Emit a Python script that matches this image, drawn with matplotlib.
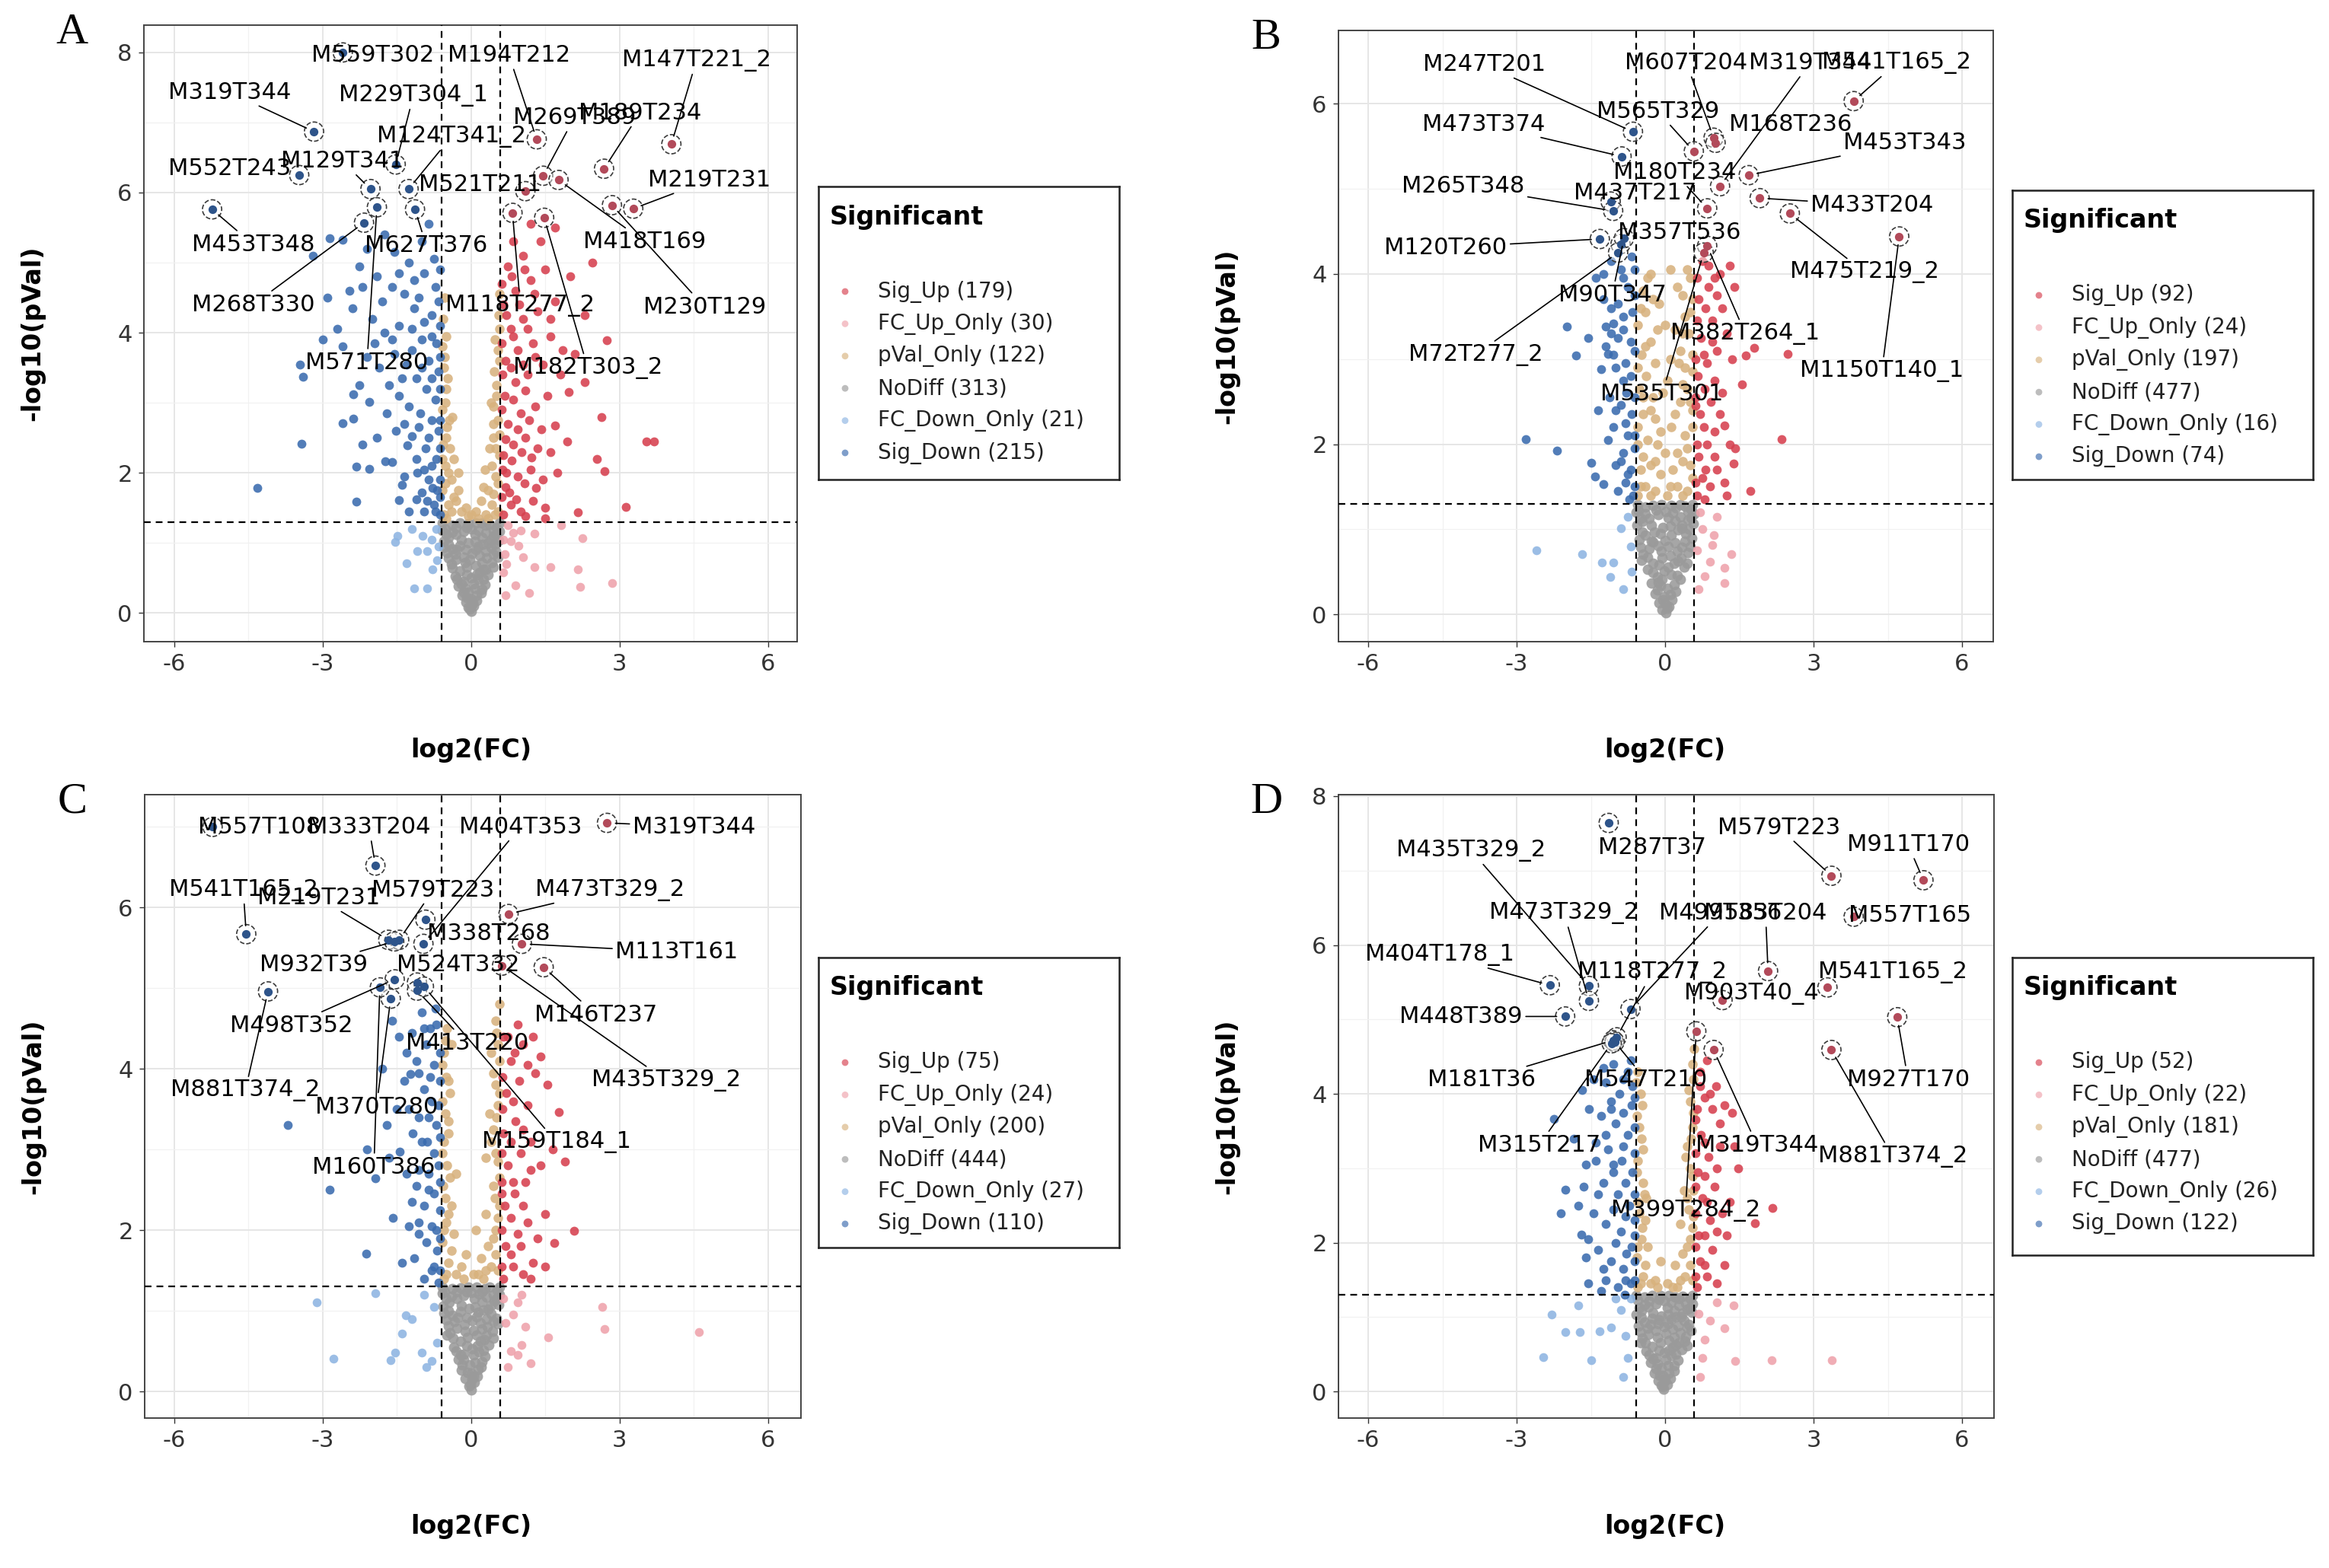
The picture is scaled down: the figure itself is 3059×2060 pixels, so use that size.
import matplotlib

matplotlib.use("Agg")
import matplotlib.pyplot as plt

plt.rcParams["font.family"] = ["DejaVu Sans"]
plt.rcParams["axes.unicode_minus"] = False

W, H = 3059, 2060  # output size in pixels (dpi 100)

CATEGORIES = ["Sig_Up", "FC_Up_Only", "pVal_Only", "NoDiff", "FC_Down_Only", "Sig_Down"]
COLORS = {
    "Sig_Up": "#D6404F",
    "FC_Up_Only": "#EFA2AB",
    "pVal_Only": "#D8B27E",
    "NoDiff": "#9A9A9A",
    "FC_Down_Only": "#8DB4E2",
    "Sig_Down": "#3A6BAE",
}

# ---------------- panel A ----------------
A_COUNTS = [179, 30, 122, 313, 21, 215]
A_SIG_UP = [(3.54, 2.45), (3.70, 2.45), (2.70, 2.02), (3.13, 1.51), (2.16, 1.44), (2.64, 2.79), (2.75, 3.89),
            (1.98, 3.15), (1.70, 2.68), (0.65, 1.40), (0.80, 1.55), (1.00, 1.45), (1.25, 1.60), (1.50, 1.50),
            (0.70, 1.80), (0.95, 1.95), (1.20, 2.05), (1.45, 1.90), (1.75, 2.00), (0.66, 2.25), (0.85, 2.40),
            (1.10, 2.50), (1.35, 2.35), (0.75, 2.70), (1.00, 2.85), (1.30, 2.95), (1.55, 3.10), (0.68, 3.10),
            (0.90, 3.30), (1.15, 3.40), (1.45, 3.55), (1.80, 3.40), (0.70, 3.60), (0.95, 3.75), (1.25, 3.85),
            (1.60, 3.95), (2.10, 3.70), (0.80, 4.05), (1.05, 4.20), (1.35, 4.30), (1.70, 4.45), (2.30, 4.25),
            (0.66, 4.40), (0.90, 4.60), (1.20, 4.75), (1.50, 4.90), (2.00, 4.80), (0.75, 4.95), (1.05, 5.10),
            (1.40, 5.30), (0.85, 5.30), (1.70, 5.50), (2.45, 5.00), (1.20, 5.55), (0.72, 2.00), (1.60, 2.30),
            (0.62, 1.65), (0.78, 1.72), (0.92, 1.62), (1.08, 1.85), (1.32, 1.78), (0.64, 2.05), (0.82, 2.18),
            (1.02, 2.30), (1.22, 2.22), (0.70, 2.48), (0.95, 2.62), (1.18, 2.75), (1.42, 2.62), (0.63, 2.90),
            (0.86, 3.05), (1.10, 3.18), (0.64, 3.40), (0.80, 3.50), (1.05, 3.55), (1.30, 3.65), (0.62, 3.85),
            (0.85, 3.95), (1.15, 4.05), (0.72, 4.25), (0.98, 4.40), (1.28, 4.55), (0.62, 4.70), (0.82, 4.80),
            (1.08, 4.90), (1.60, 4.20), (1.85, 3.75), (1.95, 2.45), (2.30, 3.30), (2.55, 2.20), (1.50, 1.35),
            (1.10, 1.38)]
A_FC_UP = [(2.25, 1.07), (2.16, 0.62), (2.21, 0.37), (2.86, 0.43), (1.60, 0.66), (1.28, 0.66), (1.17, 0.28),
           (0.90, 0.39), (1.82, 1.25), (1.28, 1.13), (0.96, 0.96), (0.69, 0.84), (0.85, 1.14), (0.65, 0.58),
           (0.75, 1.25), (1.05, 0.80), (0.70, 0.25), (0.66, 1.05), (0.80, 1.02), (1.00, 1.18), (0.72, 0.70)]
A_PVAL = [(-0.55, 1.40), (-0.45, 1.55), (-0.58, 1.75), (-0.40, 1.90), (-0.52, 2.10), (-0.56, 2.40), (-0.48, 2.65),
          (-0.57, 2.90), (-0.50, 3.20), (-0.55, 3.50), (-0.58, 3.80), (-0.35, 2.20), (-0.30, 1.60), (-0.20, 1.45),
          (-0.25, 1.75), (-0.42, 2.35), (-0.38, 2.80), (-0.56, 4.20), (-0.53, 4.50), (0.30, 1.40), (0.42, 1.55),
          (0.55, 1.45), (0.35, 1.75), (0.50, 1.95), (0.57, 2.25), (0.45, 2.50), (0.55, 2.75), (0.40, 3.00),
          (0.52, 3.25), (0.57, 3.60), (0.48, 3.90), (0.56, 4.25), (0.20, 1.60), (0.28, 2.05), (0.38, 2.35),
          (0.46, 2.95), (0.58, 4.55), (0.15, 1.35), (0.00, 1.40), (-0.10, 1.50),
          (-0.50, 1.35), (-0.40, 1.45), (-0.35, 1.65), (-0.52, 1.85), (-0.45, 2.00), (-0.58, 2.20), (-0.50, 2.50),
          (-0.44, 2.75), (-0.52, 3.00), (-0.47, 3.35), (-0.53, 3.65), (-0.50, 3.95), (0.35, 1.35), (0.48, 1.40),
          (0.45, 1.70), (0.55, 1.85), (0.42, 2.10), (0.50, 2.35), (0.58, 2.55), (0.45, 2.70), (0.52, 3.10),
          (0.47, 3.45), (0.54, 3.75), (0.58, 4.05), (0.10, 1.45), (-0.05, 1.38), (0.25, 1.80), (-0.25, 2.00)]
A_NODIFF = [(0.00, 0.03), (-0.05, 0.08), (0.06, 0.10), (-0.10, 0.15), (0.12, 0.18), (0.00, 0.20), (-0.18, 0.25),
            (0.20, 0.28), (-0.05, 0.30), (0.08, 0.35), (-0.25, 0.38), (0.28, 0.40), (-0.15, 0.45), (0.15, 0.48),
            (0.00, 0.50), (-0.32, 0.52), (0.35, 0.55), (-0.22, 0.60), (0.25, 0.62), (-0.08, 0.65), (0.10, 0.68),
            (-0.40, 0.70), (0.42, 0.72), (-0.30, 0.76), (0.32, 0.78), (-0.15, 0.80), (0.18, 0.82), (0.02, 0.85),
            (-0.48, 0.86), (0.50, 0.88), (-0.38, 0.92), (0.40, 0.94), (-0.22, 0.96), (0.24, 0.98), (-0.05, 1.00),
            (0.08, 1.02), (-0.55, 1.02), (0.56, 1.04), (-0.45, 1.08), (0.46, 1.10), (-0.30, 1.12), (0.30, 1.14),
            (-0.15, 1.16), (0.15, 1.18), (0.00, 1.20), (-0.52, 1.20), (0.52, 1.22), (-0.38, 1.25), (0.38, 1.26),
            (-0.22, 1.28), (0.22, 1.28), (-0.05, 1.27), (0.03, 0.12), (-0.12, 0.35), (0.18, 0.58), (-0.28, 0.90),
            (0.34, 1.00), (-0.58, 1.18), (0.58, 1.16), (0.48, 0.98),
            (-0.02, 0.06), (0.04, 0.16), (-0.08, 0.22), (0.12, 0.25), (-0.15, 0.30), (0.22, 0.34), (-0.20, 0.42),
            (0.05, 0.42), (0.25, 0.48), (-0.28, 0.48), (-0.08, 0.55), (0.12, 0.55), (0.30, 0.62), (-0.38, 0.64),
            (0.45, 0.66), (-0.12, 0.72), (0.22, 0.72), (-0.45, 0.78), (0.55, 0.80), (-0.02, 0.76), (0.10, 0.90),
            (-0.10, 0.90), (0.30, 0.88), (-0.32, 0.84), (-0.55, 0.94), (0.45, 0.84), (0.15, 0.95), (-0.45, 0.98),
            (0.40, 1.05), (-0.20, 1.05), (0.22, 1.08), (-0.38, 1.15), (0.08, 1.12), (-0.08, 1.22), (0.45, 1.18),
            (-0.58, 1.28), (0.58, 1.28), (0.30, 1.25), (-0.30, 1.22), (0.10, 1.28), (-0.50, 1.12), (0.52, 1.12)]
A_FC_DOWN = [(-1.53, 1.01), (-1.15, 0.35), (-0.88, 0.35), (-1.08, 0.88), (-1.30, 0.71), (-0.88, 0.88),
             (-0.98, 1.10), (-0.77, 0.62), (-1.48, 1.10), (-0.70, 1.20), (-0.65, 0.95), (-1.20, 1.20),
             (-0.68, 0.75), (-0.80, 1.05)]
A_SIG_DOWN = [(-4.32, 1.78), (-3.42, 2.42), (-3.40, 3.37), (-3.45, 3.55), (-2.32, 1.59), (-2.32, 2.09),
              (-2.05, 2.06), (-2.59, 2.71), (-2.37, 2.77), (-2.37, 3.12), (-2.05, 3.01), (-1.73, 2.17),
              (-1.40, 1.83), (-1.46, 1.61), (-1.08, 2.00), (-1.29, 2.39), (-1.51, 2.60), (-1.19, 2.52),
              (-0.95, 1.45), (-0.75, 1.55), (-0.68, 1.75), (-0.85, 1.90), (-1.10, 1.62), (-0.70, 2.20),
              (-0.92, 2.35), (-0.66, 2.60), (-0.80, 2.75), (-1.02, 2.85), (-1.25, 2.95), (-1.45, 3.10),
              (-1.65, 3.25), (-0.72, 3.05), (-0.90, 3.20), (-1.10, 3.35), (-0.65, 3.45), (-0.85, 3.60),
              (-1.30, 3.55), (-1.55, 3.70), (-1.85, 3.50), (-2.10, 3.65), (-2.60, 3.80), (-0.70, 3.85),
              (-1.00, 3.90), (-1.20, 4.05), (-1.45, 4.10), (-1.75, 4.00), (-2.00, 4.20), (-2.40, 4.35),
              (-2.90, 4.50), (-0.80, 4.25), (-0.65, 4.45), (-1.05, 4.50), (-1.35, 4.55), (-1.60, 4.65),
              (-1.90, 4.80), (-2.25, 4.95), (-2.85, 5.35), (-2.59, 5.33), (-3.20, 5.10), (-0.95, 4.85),
              (-1.25, 5.00), (-1.55, 5.15), (-0.75, 5.05), (-1.00, 5.30), (-1.75, 5.40), (-2.10, 5.20),
              (-0.85, 5.55), (-2.45, 4.60), (-2.70, 4.05), (-3.00, 3.90), (-1.90, 2.50), (-2.20, 2.40),
              (-1.60, 2.15), (-1.35, 1.95),
              (-0.62, 1.40), (-0.72, 1.45), (-0.88, 1.60), (-0.62, 1.65), (-0.78, 1.78), (-1.00, 1.72),
              (-0.62, 1.90), (-0.95, 2.05), (-0.80, 2.10), (-0.62, 2.35), (-1.10, 2.20), (-0.85, 2.50),
              (-0.62, 2.75), (-1.05, 2.65), (-1.35, 2.70), (-0.62, 3.20), (-0.80, 3.35), (-1.00, 3.50),
              (-1.20, 3.75), (-0.62, 3.65), (-0.80, 3.95), (-0.62, 4.10), (-0.95, 4.15), (-1.15, 4.35),
              (-0.72, 4.65), (-1.45, 4.85), (-1.15, 4.75), (-0.62, 4.90), (-1.80, 4.45), (-2.20, 4.65),
              (-1.60, 3.90), (-1.95, 3.85), (-2.25, 3.25), (-1.40, 3.35), (-1.70, 2.85), (-1.25, 1.45)]
# name, x, y, label x, label y
A_LABELS = [("M319T344", -3.17, 6.87, -4.87, 7.43), ("M552T243", -3.47, 6.25, -4.87, 6.34),
            ("M453T348", -5.23, 5.76, -4.40, 5.26), ("M129T341", -2.03, 6.05, -2.60, 6.45),
            ("M229T304_1", -1.52, 6.40, -1.16, 7.39), ("M124T341_2", -1.26, 6.05, -0.39, 6.80),
            ("M627T376", -1.13, 5.76, -0.90, 5.24), ("M268T330", -2.16, 5.57, -4.40, 4.40),
            ("M571T280", -1.90, 5.79, -2.10, 3.57), ("M559T302", -2.59, 8.00, -1.98, 7.96),
            ("M147T221_2", 4.05, 6.69, 4.56, 7.89), ("M194T212", 1.33, 6.76, 0.77, 7.96),
            ("M269T389", 1.46, 6.24, 2.09, 7.07), ("M189T234", 2.69, 6.34, 3.42, 7.14),
            ("M521T211", 1.10, 6.02, 0.18, 6.11), ("M219T231", 3.28, 5.77, 4.82, 6.18),
            ("M418T169", 1.77, 6.18, 3.51, 5.30), ("M230T129", 2.85, 5.82, 4.72, 4.37),
            ("M118T277_2", 0.84, 5.71, 1.00, 4.39), ("M182T303_2", 1.48, 5.64, 2.36, 3.50)]

# ---------------- panel B ----------------
B_COUNTS = [92, 24, 197, 477, 16, 74]
B_SIG_UP = [(2.35, 2.06), (1.73, 1.45), (2.48, 3.06), (1.80, 3.13), (1.63, 3.04), (1.42, 1.95), (1.38, 1.77),
            (1.20, 2.22), (0.65, 1.40), (0.75, 1.60), (0.90, 1.50), (1.05, 1.70), (0.68, 1.85), (0.85, 2.00),
            (1.00, 2.15), (0.70, 2.35), (0.92, 2.50), (1.15, 2.60), (0.66, 2.80), (0.85, 2.95), (1.05, 3.10),
            (1.25, 3.30), (0.72, 3.25), (0.95, 3.45), (1.15, 3.60), (0.68, 3.70), (0.88, 3.85), (1.10, 4.00),
            (1.30, 4.10), (0.75, 4.15), (1.40, 3.85), (1.55, 2.70), (0.80, 1.35), (1.25, 1.40), (1.00, 3.95),
            (0.62, 2.55), (0.78, 3.05),
            (0.62, 1.55), (0.82, 1.70), (1.00, 1.85), (0.64, 2.00), (0.78, 2.20), (1.10, 2.35), (0.62, 2.45),
            (0.80, 2.65), (1.00, 2.75), (0.62, 3.00), (0.95, 3.20), (0.64, 3.45), (0.82, 3.60), (1.05, 3.75),
            (0.64, 3.95), (0.88, 4.10), (1.20, 1.55), (1.30, 2.00), (1.35, 3.00)]
B_FC_UP = [(1.34, 0.71), (1.20, 0.55), (1.20, 0.37), (0.98, 0.93), (0.95, 0.82), (0.90, 0.62), (0.80, 0.45),
           (0.70, 1.20), (0.75, 1.00), (0.65, 0.75), (1.05, 1.15), (0.68, 0.30)]
B_PVAL = [(-0.55, 1.40), (-0.40, 1.50), (-0.20, 1.45), (0.05, 1.40), (0.25, 1.50), (0.45, 1.45), (0.55, 1.60),
          (-0.50, 1.70), (-0.30, 1.75), (-0.10, 1.65), (0.15, 1.70), (0.35, 1.80), (-0.55, 2.00), (-0.35, 2.05),
          (0.40, 2.10), (0.55, 2.20), (-0.45, 2.35), (-0.20, 2.30), (0.20, 2.35), (0.50, 2.50), (-0.52, 2.65),
          (-0.38, 2.80), (0.35, 2.70), (0.55, 2.85), (-0.48, 3.05), (-0.30, 3.20), (0.30, 3.10), (0.48, 3.30),
          (-0.55, 3.40), (-0.40, 3.55), (0.40, 3.50), (0.55, 3.70), (-0.45, 3.80), (0.25, 3.85), (0.45, 4.05),
          (-0.30, 4.00), (0.00, 1.90), (-0.05, 2.60), (0.10, 3.00), (0.00, 3.40), (-0.15, 2.00), (0.12, 2.20),
          (-0.25, 2.55), (0.28, 2.95), (-0.12, 3.65),
          (-0.50, 1.50), (-0.30, 1.40), (0.10, 1.50), (0.35, 1.40), (0.50, 1.75), (-0.45, 1.85), (-0.20, 1.80),
          (0.25, 1.90), (0.45, 1.95), (-0.55, 2.20), (-0.30, 2.40), (0.30, 2.50), (0.55, 2.40), (-0.45, 2.55),
          (0.45, 2.65), (-0.55, 2.90), (-0.20, 2.95), (0.40, 2.90), (0.55, 3.05), (-0.40, 3.15), (0.20, 3.35),
          (0.35, 3.30), (-0.50, 3.60), (-0.25, 3.70), (0.50, 3.55), (0.35, 3.75), (-0.35, 3.95), (0.50, 3.95),
          (0.10, 4.05), (-0.10, 2.15), (0.05, 2.75), (-0.15, 3.35)]
B_NODIFF = [(0.02, 0.02), (-0.06, 0.06), (0.08, 0.09), (-0.12, 0.14), (0.14, 0.17), (-0.02, 0.21), (-0.20, 0.24),
            (0.22, 0.27), (0.04, 0.31), (-0.10, 0.34), (-0.28, 0.37), (0.30, 0.41), (-0.16, 0.44), (0.12, 0.47),
            (-0.02, 0.51), (-0.36, 0.53), (0.38, 0.56), (-0.24, 0.60), (0.26, 0.63), (-0.06, 0.66), (0.10, 0.69),
            (-0.44, 0.71), (0.46, 0.73), (-0.32, 0.77), (0.34, 0.79), (-0.14, 0.81), (0.20, 0.84), (0.00, 0.87),
            (-0.52, 0.88), (0.54, 0.90), (-0.40, 0.93), (0.42, 0.95), (-0.22, 0.97), (0.26, 0.99), (-0.04, 1.02),
            (0.10, 1.04), (-0.57, 1.05), (0.57, 1.07), (-0.46, 1.09), (0.46, 1.11), (-0.32, 1.13), (0.30, 1.15),
            (-0.14, 1.17), (0.16, 1.19), (0.02, 1.21), (-0.54, 1.22), (0.52, 1.24), (-0.40, 1.26), (0.40, 1.27),
            (-0.24, 1.28), (0.22, 1.25), (-0.08, 1.29), (0.00, 0.13), (-0.14, 0.38), (0.18, 0.60), (-0.28, 0.86),
            (0.34, 1.01), (-0.58, 1.20), (0.58, 1.18), (0.48, 1.00), (-0.48, 0.64), (0.44, 0.60),
            (0.05, 0.07), (-0.04, 0.17), (0.10, 0.23), (-0.16, 0.29), (0.18, 0.35), (-0.06, 0.41), (0.24, 0.46),
            (-0.24, 0.49), (0.06, 0.56), (-0.12, 0.58), (0.32, 0.66), (-0.36, 0.67), (0.50, 0.80), (-0.50, 0.79),
            (-0.08, 0.74), (0.24, 0.74), (0.06, 0.80), (-0.24, 0.85), (0.40, 0.86), (-0.46, 0.97), (0.12, 0.93),
            (-0.10, 0.95), (0.34, 1.05), (-0.28, 1.05), (0.20, 1.10), (-0.40, 1.18), (0.06, 1.14), (-0.18, 1.23),
            (0.46, 1.21), (0.56, 1.29), (-0.56, 1.29), (0.30, 1.29), (0.12, 1.28), (-0.50, 1.13), (0.52, 1.14)]
B_FC_DOWN = [(-2.60, 0.75), (-1.67, 0.71), (-1.27, 0.61), (-1.05, 0.61), (-1.11, 0.44), (-0.90, 1.01),
             (-0.70, 0.80), (-0.68, 0.50), (-0.75, 1.15), (-0.85, 0.30)]
B_SIG_DOWN = [(-2.82, 2.06), (-2.18, 1.92), (-1.98, 3.38), (-1.80, 3.04), (-1.50, 1.78), (-1.41, 1.62),
              (-1.24, 1.53), (-1.20, 3.38), (-1.10, 3.30), (-0.95, 3.25), (-1.05, 3.42), (-0.85, 3.35),
              (-1.15, 3.06), (-1.30, 2.88), (-1.00, 2.90), (-0.80, 2.95), (-0.70, 2.80), (-0.90, 2.46),
              (-1.05, 2.20), (-0.75, 2.10), (-0.85, 1.90), (-0.70, 1.70), (-1.00, 1.75), (-0.80, 1.55),
              (-0.65, 1.40), (-0.95, 1.45), (-1.15, 2.05), (-0.68, 2.35), (-0.78, 2.60), (-1.12, 2.55),
              (-0.62, 3.10), (-0.66, 3.55), (-0.95, 3.65), (-1.25, 3.70), (-0.75, 3.85), (-1.40, 3.95),
              (-0.90, 4.05), (-1.10, 4.15), (-0.68, 4.20), (-1.55, 3.25), (-1.35, 2.40), (-0.62, 1.95),
              (-0.62, 1.50), (-0.75, 1.65), (-0.90, 1.80), (-0.62, 2.10), (-0.80, 2.25), (-1.00, 2.40),
              (-0.62, 2.55), (-0.85, 2.75), (-1.05, 3.05), (-0.70, 3.20), (-0.85, 3.50), (-0.62, 3.75),
              (-1.10, 3.60), (-0.85, 3.95), (-0.62, 4.05), (-1.25, 4.00), (-1.20, 3.15), (-0.72, 1.35)]
B_LABELS = [("M541T165_2", 3.81, 6.03, 4.68, 6.48), ("M607T204", 0.98, 5.60, 0.43, 6.48),
            ("M319T344", 1.11, 5.03, 2.93, 6.48), ("M565T329", 0.58, 5.44, -0.15, 5.91),
            ("M168T236", 1.02, 5.54, 2.53, 5.76), ("M453T343", 1.69, 5.16, 4.84, 5.54),
            ("M180T234", 0.85, 4.77, 0.19, 5.19), ("M433T204", 1.91, 4.89, 4.18, 4.81),
            ("M475T219_2", 2.52, 4.71, 4.03, 4.02), ("M1150T140_1", 4.73, 4.44, 4.38, 2.86),
            ("M382T264_1", 0.85, 4.33, 1.62, 3.30), ("M535T301", 0.78, 4.25, -0.06, 2.59),
            ("M247T201", -0.65, 5.67, -3.66, 6.46), ("M473T374", -0.88, 5.38, -3.66, 5.76),
            ("M437T217", -1.10, 4.85, -0.61, 4.95), ("M265T348", -1.05, 4.74, -4.08, 5.03),
            ("M120T260", -1.32, 4.41, -4.43, 4.31), ("M357T536", -0.90, 4.35, 0.29, 4.49),
            ("M90T347", -0.83, 4.42, -1.07, 3.75), ("M72T277_2", -0.95, 4.25, -3.83, 3.05)]

# ---------------- panel C ----------------
C_COUNTS = [75, 24, 200, 444, 27, 110]
C_SIG_UP = [(1.78, 3.46), (2.08, 1.99), (1.69, 1.84), (1.50, 2.20), (1.40, 2.80), (1.65, 3.00), (1.90, 2.85),
            (0.65, 1.40), (0.85, 1.55), (1.05, 1.45), (1.25, 1.60), (0.70, 1.80), (0.95, 1.95), (1.15, 2.10),
            (0.68, 2.30), (0.88, 2.45), (1.10, 2.60), (0.75, 2.80), (1.00, 2.95), (1.20, 3.10), (0.66, 3.20),
            (0.90, 3.35), (1.15, 3.55), (0.72, 3.70), (0.98, 3.85), (1.30, 3.95), (0.80, 4.10), (1.05, 4.30),
            (1.40, 4.15), (0.66, 4.40), (0.95, 4.55), (1.25, 4.40), (1.55, 3.80), (0.62, 2.60), (1.35, 1.90),
            (0.62, 1.55), (0.80, 1.70), (1.00, 1.80), (0.62, 2.00), (0.80, 2.15), (1.05, 2.30), (0.62, 2.45),
            (0.85, 2.60), (1.20, 2.75), (0.62, 2.95), (0.80, 3.10), (1.05, 3.25), (0.64, 3.50), (0.85, 3.60),
            (0.64, 3.90), (0.88, 4.20), (1.15, 4.05), (0.75, 4.40), (1.20, 1.40), (1.50, 1.55)]
C_FC_UP = [(2.66, 1.05), (2.70, 0.77), (4.60, 0.74), (1.56, 0.67), (1.03, 0.58), (0.94, 0.45), (0.80, 0.50),
           (0.85, 0.95), (1.03, 1.20), (0.95, 1.10), (0.70, 0.85), (0.75, 0.30), (1.20, 0.35), (1.10, 0.80),
           (0.65, 1.15)]
C_PVAL = [(-0.55, 1.40), (-0.45, 1.60), (-0.30, 1.45), (-0.58, 1.85), (-0.50, 2.10), (-0.40, 2.30), (-0.56, 2.55),
          (-0.48, 2.80), (-0.55, 3.10), (-0.45, 3.35), (-0.57, 3.60), (-0.50, 3.90), (-0.55, 4.20), (-0.48, 4.50),
          (-0.20, 1.55), (-0.35, 1.95), (-0.30, 2.70), (0.25, 1.40), (0.40, 1.55), (0.55, 1.50), (0.35, 1.80),
          (0.50, 2.00), (0.57, 2.30), (0.45, 2.55), (0.55, 2.85), (0.40, 3.10), (0.52, 3.40), (0.57, 3.70),
          (0.45, 3.95), (0.55, 4.30), (0.50, 4.60), (0.20, 1.65), (0.30, 2.20), (0.30, 2.90), (0.05, 1.45),
          (-0.10, 1.70), (0.10, 2.00), (-0.42, 3.70), (0.38, 3.45), (0.58, 4.80),
          (-0.50, 1.45), (-0.40, 1.75), (-0.55, 2.00), (-0.45, 2.20), (-0.52, 2.40), (-0.42, 2.65), (-0.57, 2.95),
          (-0.45, 3.20), (-0.52, 3.45), (-0.46, 3.85), (-0.58, 4.05), (-0.52, 4.35), (0.30, 1.50), (0.50, 1.70),
          (0.45, 1.90), (0.55, 2.15), (0.48, 2.40), (0.57, 2.65), (0.50, 2.95), (0.45, 3.25), (0.55, 3.55),
          (0.50, 3.80), (0.57, 4.10), (0.52, 4.45), (0.40, 4.20), (-0.40, 4.30), (0.15, 1.45), (-0.15, 1.40)]
C_NODIFF = [(0.01, 0.02), (-0.04, 0.07), (0.07, 0.11), (-0.11, 0.16), (0.13, 0.19), (0.01, 0.23), (-0.19, 0.26),
            (0.21, 0.30), (-0.03, 0.33), (0.09, 0.36), (-0.26, 0.40), (0.29, 0.43), (-0.14, 0.46), (0.16, 0.49),
            (0.03, 0.53), (-0.34, 0.55), (0.36, 0.58), (-0.21, 0.62), (0.27, 0.64), (-0.07, 0.67), (0.11, 0.70),
            (-0.42, 0.73), (0.44, 0.75), (-0.29, 0.78), (0.33, 0.80), (-0.13, 0.83), (0.19, 0.85), (0.03, 0.88),
            (-0.50, 0.89), (0.52, 0.91), (-0.37, 0.94), (0.41, 0.96), (-0.21, 0.99), (0.25, 1.01), (-0.04, 1.03),
            (0.09, 1.05), (-0.56, 1.06), (0.56, 1.08), (-0.44, 1.10), (0.47, 1.12), (-0.29, 1.15), (0.31, 1.17),
            (-0.14, 1.19), (0.16, 1.21), (0.01, 1.23), (-0.53, 1.24), (0.53, 1.26), (-0.37, 1.27), (0.37, 1.29),
            (-0.21, 1.28), (0.23, 1.24), (-0.06, 1.29), (0.02, 0.15), (-0.15, 0.40), (0.19, 0.62), (-0.27, 0.92),
            (0.35, 1.02), (-0.57, 1.22), (0.57, 1.20), (-0.48, 0.70), (0.46, 0.66), (0.05, 0.76),
            (-0.01, 0.09), (0.06, 0.19), (-0.07, 0.24), (0.14, 0.27), (-0.17, 0.33), (0.23, 0.37), (-0.21, 0.45),
            (0.05, 0.45), (0.26, 0.51), (-0.30, 0.50), (-0.09, 0.57), (0.13, 0.57), (0.32, 0.70), (-0.36, 0.66),
            (-0.12, 0.75), (0.23, 0.77), (-0.46, 0.81), (0.54, 0.84), (0.11, 0.93), (-0.09, 0.92), (0.31, 0.90),
            (-0.33, 0.87), (-0.55, 0.97), (0.46, 0.87), (0.15, 0.98), (-0.45, 1.00), (0.41, 1.07), (-0.19, 1.07),
            (0.22, 1.11), (-0.39, 1.18), (0.07, 1.15), (-0.08, 1.24), (0.45, 1.20), (-0.58, 1.29), (0.58, 1.29),
            (0.29, 1.27), (-0.29, 1.24), (0.11, 1.29), (-0.50, 1.15), (0.52, 1.15)]
C_FC_DOWN = [(-3.12, 1.10), (-1.93, 1.22), (-2.77, 0.41), (-1.62, 0.39), (-1.53, 0.48), (-1.32, 0.94),
             (-1.20, 0.90), (-1.00, 0.48), (-0.80, 0.38), (-0.90, 0.30), (-0.75, 1.05), (-1.40, 0.72),
             (-0.68, 0.60), (-0.95, 1.20)]
C_SIG_DOWN = [(-2.86, 2.50), (-2.11, 1.71), (-1.58, 2.15), (-1.93, 2.64), (-1.18, 3.20), (-1.44, 2.97),
              (-1.65, 2.90), (-1.23, 3.94), (-0.95, 3.75), (-0.80, 3.60), (-1.05, 3.40), (-0.70, 3.30),
              (-0.88, 3.10), (-1.30, 2.70), (-1.10, 2.55), (-0.75, 2.45), (-0.95, 2.30), (-1.25, 2.05),
              (-0.70, 2.00), (-0.90, 1.85), (-1.15, 1.65), (-1.40, 1.60), (-0.75, 1.55), (-0.95, 1.40),
              (-0.65, 1.35), (-0.66, 2.80), (-0.85, 2.70), (-1.50, 3.50), (-1.10, 4.10), (-0.75, 4.05),
              (-0.90, 4.30), (-1.20, 4.45), (-1.45, 4.40), (-0.70, 4.55), (-1.00, 4.70), (-1.70, 3.30),
              (-2.10, 3.00), (-1.80, 4.00), (-3.70, 3.30), (-1.35, 3.85), (-0.68, 1.75), (-1.05, 1.95),
              (-1.20, 2.35), (-0.62, 3.85), (-0.82, 4.50),
              (-0.62, 1.50), (-0.80, 1.50), (-0.62, 1.90), (-0.80, 2.05), (-1.05, 2.10), (-0.62, 2.25),
              (-0.85, 2.50), (-1.05, 2.75), (-0.62, 2.60), (-0.75, 2.95), (-1.00, 3.10), (-0.62, 3.15),
              (-0.85, 3.40), (-1.25, 3.50), (-0.65, 3.55), (-0.82, 3.90), (-1.05, 3.95), (-0.62, 4.20),
              (-0.95, 4.50), (-1.30, 4.20), (-0.72, 4.75), (-1.60, 4.60)]
C_LABELS = [("M319T344", 2.75, 7.05, 4.51, 7.00), ("M557T108", -5.22, 7.00, -4.27, 7.00),
            ("M333T204", -1.93, 6.52, -2.06, 7.00), ("M404T353", -0.96, 5.55, 1.00, 7.00),
            ("M541T165_2", -4.54, 5.67, -4.60, 6.22), ("M219T231", -1.67, 5.60, -3.08, 6.12),
            ("M579T223", -1.45, 5.60, -0.76, 6.22), ("M473T329_2", 0.76, 5.92, 2.81, 6.22),
            ("M338T268", -0.92, 5.85, 0.36, 5.68), ("M113T161", 1.03, 5.55, 4.16, 5.45),
            ("M932T39", -1.55, 5.58, -3.17, 5.29), ("M524T332", -1.09, 5.07, -0.26, 5.29),
            ("M146T237", 1.47, 5.26, 2.53, 4.67), ("M498T352", -1.54, 5.11, -3.63, 4.54),
            ("M881T374_2", -4.10, 4.96, -4.56, 3.73), ("M413T220", -1.09, 4.97, -0.08, 4.32),
            ("M435T329_2", 0.63, 5.28, 3.94, 3.86), ("M370T280", -1.62, 4.87, -1.91, 3.53),
            ("M159T184_1", -0.95, 5.02, 1.73, 3.09), ("M160T386", -1.84, 5.01, -1.96, 2.78)]

# ---------------- panel D ----------------
D_COUNTS = [52, 22, 181, 477, 26, 122]
D_SIG_UP = [(1.47, 3.00), (2.17, 2.47), (1.82, 2.26), (1.03, 4.10), (1.20, 3.85), (1.35, 3.75), (0.95, 3.80),
            (1.10, 3.60), (0.70, 4.30), (0.65, 1.40), (0.85, 1.55), (1.05, 1.45), (0.70, 1.75), (0.95, 1.90),
            (1.20, 1.70), (0.68, 2.10), (0.90, 2.30), (1.15, 2.40), (0.75, 2.60), (1.00, 2.75), (1.30, 2.55),
            (0.66, 2.95), (0.88, 3.15), (1.10, 3.30), (0.72, 3.45), (1.40, 3.30), (0.80, 3.95), (1.25, 2.10),
            (0.62, 3.65), (0.85, 4.45),
            (0.62, 1.55), (0.80, 1.70), (0.62, 1.95), (0.80, 2.10), (1.05, 2.15), (0.62, 2.40), (0.85, 2.55),
            (0.62, 2.75), (0.80, 2.90), (1.05, 3.00), (0.62, 3.20), (0.80, 3.35), (0.64, 3.80), (0.90, 4.00),
            (0.70, 4.10)]
D_FC_UP = [(1.42, 0.41), (2.15, 0.42), (3.37, 0.42), (1.38, 1.16), (0.80, 0.70), (0.75, 0.45), (0.70, 0.20),
           (0.90, 0.95), (1.05, 1.20), (0.68, 1.05), (1.20, 0.85)]
D_PVAL = [(-0.55, 1.40), (-0.45, 1.55), (-0.30, 1.45), (-0.57, 1.80), (-0.48, 2.05), (-0.40, 2.30), (-0.56, 2.55),
          (-0.45, 2.80), (-0.55, 3.10), (-0.48, 3.40), (-0.57, 3.70), (-0.50, 4.00), (-0.55, 4.30), (-0.20, 1.50),
          (-0.35, 1.95), (0.25, 1.40), (0.40, 1.55), (0.55, 1.50), (0.35, 1.85), (0.50, 2.05), (0.57, 2.35),
          (0.45, 2.60), (0.55, 2.90), (0.42, 3.15), (0.52, 3.40), (0.57, 3.75), (0.48, 4.05), (0.55, 4.40),
          (0.20, 1.70), (0.30, 2.25), (0.05, 1.45), (-0.10, 1.75), (0.38, 2.70), (-0.38, 2.60), (0.58, 4.60),
          (-0.50, 1.45), (-0.40, 1.70), (-0.55, 1.95), (-0.46, 2.20), (-0.52, 2.40), (-0.42, 2.65), (-0.57, 2.95),
          (-0.45, 3.25), (-0.52, 3.55), (-0.46, 3.85), (-0.58, 4.15), (0.30, 1.50), (0.50, 1.70), (0.45, 1.95),
          (0.55, 2.20), (0.48, 2.45), (0.57, 2.70), (0.50, 3.00), (0.45, 3.30), (0.55, 3.55), (0.50, 3.90),
          (0.57, 4.20), (0.15, 1.40), (-0.15, 1.40)]
D_NODIFF = [(-0.03, 0.03), (-0.08, 0.08), (0.04, 0.10), (-0.14, 0.15), (0.10, 0.18), (-0.04, 0.22), (-0.22, 0.25),
            (0.18, 0.28), (-0.07, 0.32), (0.06, 0.35), (-0.30, 0.39), (0.26, 0.42), (-0.18, 0.45), (0.12, 0.48),
            (-0.02, 0.52), (-0.38, 0.54), (0.34, 0.57), (-0.26, 0.61), (0.22, 0.63), (-0.10, 0.66), (0.08, 0.69),
            (-0.46, 0.72), (0.42, 0.74), (-0.34, 0.77), (0.30, 0.79), (-0.18, 0.82), (0.16, 0.84), (-0.02, 0.87),
            (-0.54, 0.88), (0.48, 0.90), (-0.42, 0.93), (0.38, 0.95), (-0.26, 0.98), (0.22, 1.00), (-0.08, 1.02),
            (0.06, 1.04), (-0.58, 1.04), (0.54, 1.07), (-0.48, 1.09), (0.44, 1.11), (-0.34, 1.14), (0.28, 1.16),
            (-0.18, 1.18), (0.12, 1.20), (-0.02, 1.22), (-0.56, 1.23), (0.50, 1.25), (-0.42, 1.27), (0.36, 1.28),
            (-0.26, 1.29), (0.20, 1.27), (-0.10, 1.29), (-0.02, 0.14), (-0.16, 0.37), (0.16, 0.60), (-0.30, 0.90),
            (0.32, 1.01), (0.56, 1.18), (-0.50, 0.66), (0.44, 0.62), (0.02, 0.78), (-0.12, 0.96),
            (-0.05, 0.06), (0.00, 0.17), (-0.11, 0.22), (0.08, 0.25), (-0.19, 0.31), (0.18, 0.35), (-0.24, 0.44),
            (0.02, 0.43), (0.22, 0.50), (-0.32, 0.49), (-0.12, 0.56), (0.08, 0.56), (0.28, 0.66), (-0.40, 0.66),
            (0.40, 0.68), (-0.16, 0.73), (0.18, 0.73), (-0.50, 0.80), (0.52, 0.82), (0.06, 0.91), (-0.14, 0.91),
            (0.26, 0.88), (-0.36, 0.85), (0.44, 0.86), (0.12, 0.97), (-0.48, 0.99), (0.36, 1.06), (-0.24, 1.06),
            (0.18, 1.09), (-0.42, 1.17), (0.04, 1.13), (-0.12, 1.24), (0.42, 1.19), (0.56, 1.29), (-0.58, 1.29),
            (0.28, 1.25), (-0.32, 1.22), (0.08, 1.29), (-0.52, 1.13), (0.50, 1.13)]
D_FC_DOWN = [(-2.29, 1.04), (-1.76, 1.16), (-2.46, 0.46), (-2.02, 0.80), (-1.72, 0.80), (-1.32, 0.81),
             (-1.10, 0.86), (-1.50, 0.42), (-0.90, 1.10), (-0.80, 0.75), (-0.75, 0.45), (-0.70, 1.25),
             (-0.85, 0.20), (-1.00, 1.25)]
D_SIG_DOWN = [(-2.24, 3.66), (-2.02, 2.71), (-1.76, 2.50), (-2.11, 2.40), (-1.54, 3.80), (-1.67, 4.05),
              (-1.70, 2.11), (-1.60, 1.80), (-1.55, 1.45), (-1.20, 1.50), (-0.95, 1.40), (-0.70, 1.45),
              (-0.85, 1.65), (-1.10, 1.75), (-1.35, 1.90), (-0.68, 1.95), (-0.90, 2.15), (-1.20, 2.25),
              (-1.45, 2.40), (-0.72, 2.50), (-0.95, 2.65), (-1.25, 2.80), (-0.66, 2.95), (-0.88, 3.10),
              (-1.15, 3.25), (-1.40, 3.35), (-0.75, 3.45), (-1.00, 3.60), (-1.30, 3.70), (-0.68, 3.85),
              (-0.92, 4.00), (-1.20, 4.15), (-0.75, 4.30), (-1.05, 4.40), (-1.45, 4.20), (-0.62, 2.30),
              (-1.05, 2.95), (-1.60, 3.05), (-1.85, 3.40), (-0.82, 1.30), (-1.30, 1.35), (-1.10, 3.90),
              (-0.66, 4.10),
              (-0.62, 1.50), (-0.80, 1.50), (-0.62, 1.75), (-0.78, 1.85), (-1.00, 2.00), (-0.62, 2.10),
              (-0.80, 2.35), (-1.05, 2.45), (-0.62, 2.65), (-0.80, 2.80), (-1.05, 3.05), (-0.62, 3.20),
              (-0.85, 3.30), (-1.20, 3.45), (-0.62, 3.55), (-0.85, 3.75), (-1.10, 3.80), (-0.62, 3.95),
              (-0.85, 4.20), (-1.25, 4.35), (-0.70, 4.45), (-1.35, 2.65), (-1.55, 2.05), (-1.25, 1.65),
              (-1.40, 3.10), (-1.65, 2.75)]
D_LABELS = [("M287T37", -1.14, 7.64, -0.26, 7.31), ("M435T329_2", -1.54, 5.45, -3.92, 7.27),
            ("M579T223", 3.36, 6.93, 2.30, 7.58), ("M911T170", 5.22, 6.87, 4.91, 7.35),
            ("M473T329_2", -1.54, 5.25, -2.04, 6.43), ("M499T356", -0.70, 5.14, 1.12, 6.43),
            ("M583T204", 2.08, 5.65, 2.03, 6.43), ("M557T165", 3.81, 6.38, 4.95, 6.40),
            ("M404T178_1", -2.33, 5.46, -4.56, 5.87), ("M118T277_2", -0.98, 4.76, -0.26, 5.63),
            ("M903T40_4", 1.16, 5.26, 1.75, 5.35), ("M541T165_2", 3.28, 5.43, 4.60, 5.63),
            ("M448T389", -2.02, 5.04, -4.12, 5.04), ("M181T36", -1.05, 4.72, -3.70, 4.19),
            ("M547T210", -1.02, 4.70, -0.39, 4.19), ("M315T217", -1.08, 4.68, -2.55, 3.31),
            ("M319T344", 0.98, 4.59, 1.86, 3.31), ("M881T374_2", 3.36, 4.59, 4.60, 3.16),
            ("M927T170", 4.69, 5.03, 4.91, 4.19), ("M399T284_2", 0.63, 4.84, 0.41, 2.43)]

PANELS = [
    dict(tag="A", counts=A_COUNTS, labels=A_LABELS, zero=618.5,
         pts=dict(zip(CATEGORIES, [A_SIG_UP, A_FC_UP, A_PVAL, A_NODIFF, A_FC_DOWN, A_SIG_DOWN])),
         box=(189, 33, 1047, 843), ylim=(-0.41, 8.39), yticks=[0, 2, 4, 6, 8], legend=(1075, 245, 1470, 630)),
    dict(tag="B", counts=B_COUNTS, labels=B_LABELS, zero=2187,
         pts=dict(zip(CATEGORIES, [B_SIG_UP, B_FC_UP, B_PVAL, B_NODIFF, B_FC_DOWN, B_SIG_DOWN])),
         box=(1758, 40, 2618, 843), ylim=(-0.32, 6.86), yticks=[0, 2, 4, 6], legend=(2643, 250, 3038, 630)),
    dict(tag="C", counts=C_COUNTS, labels=C_LABELS, zero=618.5,
         pts=dict(zip(CATEGORIES, [C_SIG_UP, C_FC_UP, C_PVAL, C_NODIFF, C_FC_DOWN, C_SIG_DOWN])),
         box=(190, 1044, 1052, 1863), ylim=(-0.33, 7.40), yticks=[0, 2, 4, 6], legend=(1075, 1258, 1470, 1639)),
    dict(tag="D", counts=D_COUNTS, labels=D_LABELS, zero=2187,
         pts=dict(zip(CATEGORIES, [D_SIG_UP, D_FC_UP, D_PVAL, D_NODIFF, D_FC_DOWN, D_SIG_DOWN])),
         box=(1758, 1044, 2619, 1863), ylim=(-0.355, 8.02), yticks=[0, 2, 4, 6, 8], legend=(2643, 1258, 3038, 1649)),
]

FC_CUT = 0.585      # log2(1.5)
P_CUT = 1.301       # -log10(0.05)
# the crowded groups are drawn a little larger so the cloud reads as solid
DOT_SIZE = {"NoDiff": 100, "pVal_Only": 82, "FC_Up_Only": 70, "FC_Down_Only": 70, "Sig_Up": 72, "Sig_Down": 72}


def px_axes(fig, x0, y0, x1, y1):
    return fig.add_axes([x0 / W, 1 - y1 / H, (x1 - x0) / W, (y1 - y0) / H])


def draw_volcano(ax, p):
    x0, y0, x1, y1 = p["box"]
    zero = p["zero"]  # pixel column of log2(FC) = 0, 65 px per unit
    ax.set_xlim((x0 - zero) / 65, (x1 - zero) / 65)
    ax.set_ylim(*p["ylim"])

    ax.set_xticks([-6, -3, 0, 3, 6])
    ax.set_xticks([-4.5, -1.5, 1.5, 4.5], minor=True)
    ax.set_yticks(p["yticks"])
    ax.set_yticks([v + 1 for v in p["yticks"] if v + 1 < p["ylim"][1]], minor=True)
    ax.grid(which="major", color="#E6E6E6", lw=1.4)
    ax.grid(which="minor", color="#F1F1F1", lw=0.9)
    ax.set_axisbelow(True)
    ax.tick_params(which="major", labelsize=22, colors="#333333", length=5, width=1.0, pad=6)
    ax.tick_params(which="minor", length=0)
    for s in ax.spines.values():
        s.set_color("#444444")
        s.set_linewidth(1.4)

    for cat in ["NoDiff", "pVal_Only", "FC_Up_Only", "FC_Down_Only", "Sig_Up", "Sig_Down"]:
        xy = p["pts"][cat]
        ax.scatter([q[0] for q in xy], [q[1] for q in xy], s=DOT_SIZE[cat], color=COLORS[cat],
                   alpha=0.88, lw=0, zorder=2)

    kw = dict(color="black", lw=1.6, ls=(0, (4, 3)), zorder=3)
    ax.axvline(-FC_CUT, **kw)
    ax.axvline(FC_CUT, **kw)
    ax.axhline(P_CUT, **kw)

    # labelled features: dot + dashed ring + repelled label
    for name, x, y, lx, ly in p["labels"]:
        col = "#B24A5A" if x > 0 else "#2E548A"
        ax.scatter([x], [y], s=330, facecolors=(1, 1, 1, 0.45), edgecolors="#3a3a3a",
                   linewidths=1.2, linestyles="--", zorder=4)
        ax.scatter([x], [y], s=66, color=col, lw=0, zorder=5)
        near = abs(lx - x) < 1.6 and abs(ly - y) < 0.35
        ax.annotate(name, xy=(x, y), xytext=(lx, ly), ha="center", va="center",
                    fontsize=22, color="black", zorder=6,
                    arrowprops=None if near else dict(arrowstyle="-", color="black", lw=1.2,
                                                      shrinkA=1, shrinkB=8))


def draw_legend(fig, p):
    x0, y0, x1, y1 = p["legend"]
    lw_, lh = x1 - x0, y1 - y0
    lax = px_axes(fig, x0, y0, x1, y1)
    lax.set_xlim(0, lw_)
    lax.set_ylim(lh, 0)
    lax.set_xticks([])
    lax.set_yticks([])
    for s in lax.spines.values():
        s.set_color("#222222")
        s.set_linewidth(1.8)
    lax.text(15, 40, "Significant", fontsize=24, fontweight="bold", va="center", ha="left")
    ys = [138 + 42.4 * i for i in range(len(CATEGORIES))]
    lax.scatter([35] * len(CATEGORIES), ys, s=40, color=[COLORS[c] for c in CATEGORIES], alpha=0.65, lw=0)
    for yy, cat, n in zip(ys, CATEGORIES, p["counts"]):
        lax.text(78, yy, f"{cat} ({n})", fontsize=20, va="center", ha="left", color="#222222")


def main():
    fig = plt.figure(figsize=(W / 100, H / 100), dpi=100)
    fig.patch.set_facecolor("white")
    for p in PANELS:
        x0, y0, x1, y1 = p["box"]
        ax = px_axes(fig, x0, y0, x1, y1)
        draw_volcano(ax, p)
        draw_legend(fig, p)
        fig.text(p["zero"] / W, 1 - (y1 + 142) / H, "log2(FC)", fontsize=24, fontweight="bold",
                 ha="center", va="center")
        fig.text((x0 - 146) / W, 1 - (y0 + y1) / 2 / H, "-log10(pVal)", fontsize=24, fontweight="bold",
                 rotation=90, ha="center", va="center")
        fig.text((x0 - 95) / W, 1 - (y0 + 10) / H, p["tag"], fontsize=42,
                 family=["Liberation Serif", "DejaVu Serif"], ha="center", va="center")
    fig.savefig("out.png", dpi=100)


if __name__ == "__main__":
    main()
